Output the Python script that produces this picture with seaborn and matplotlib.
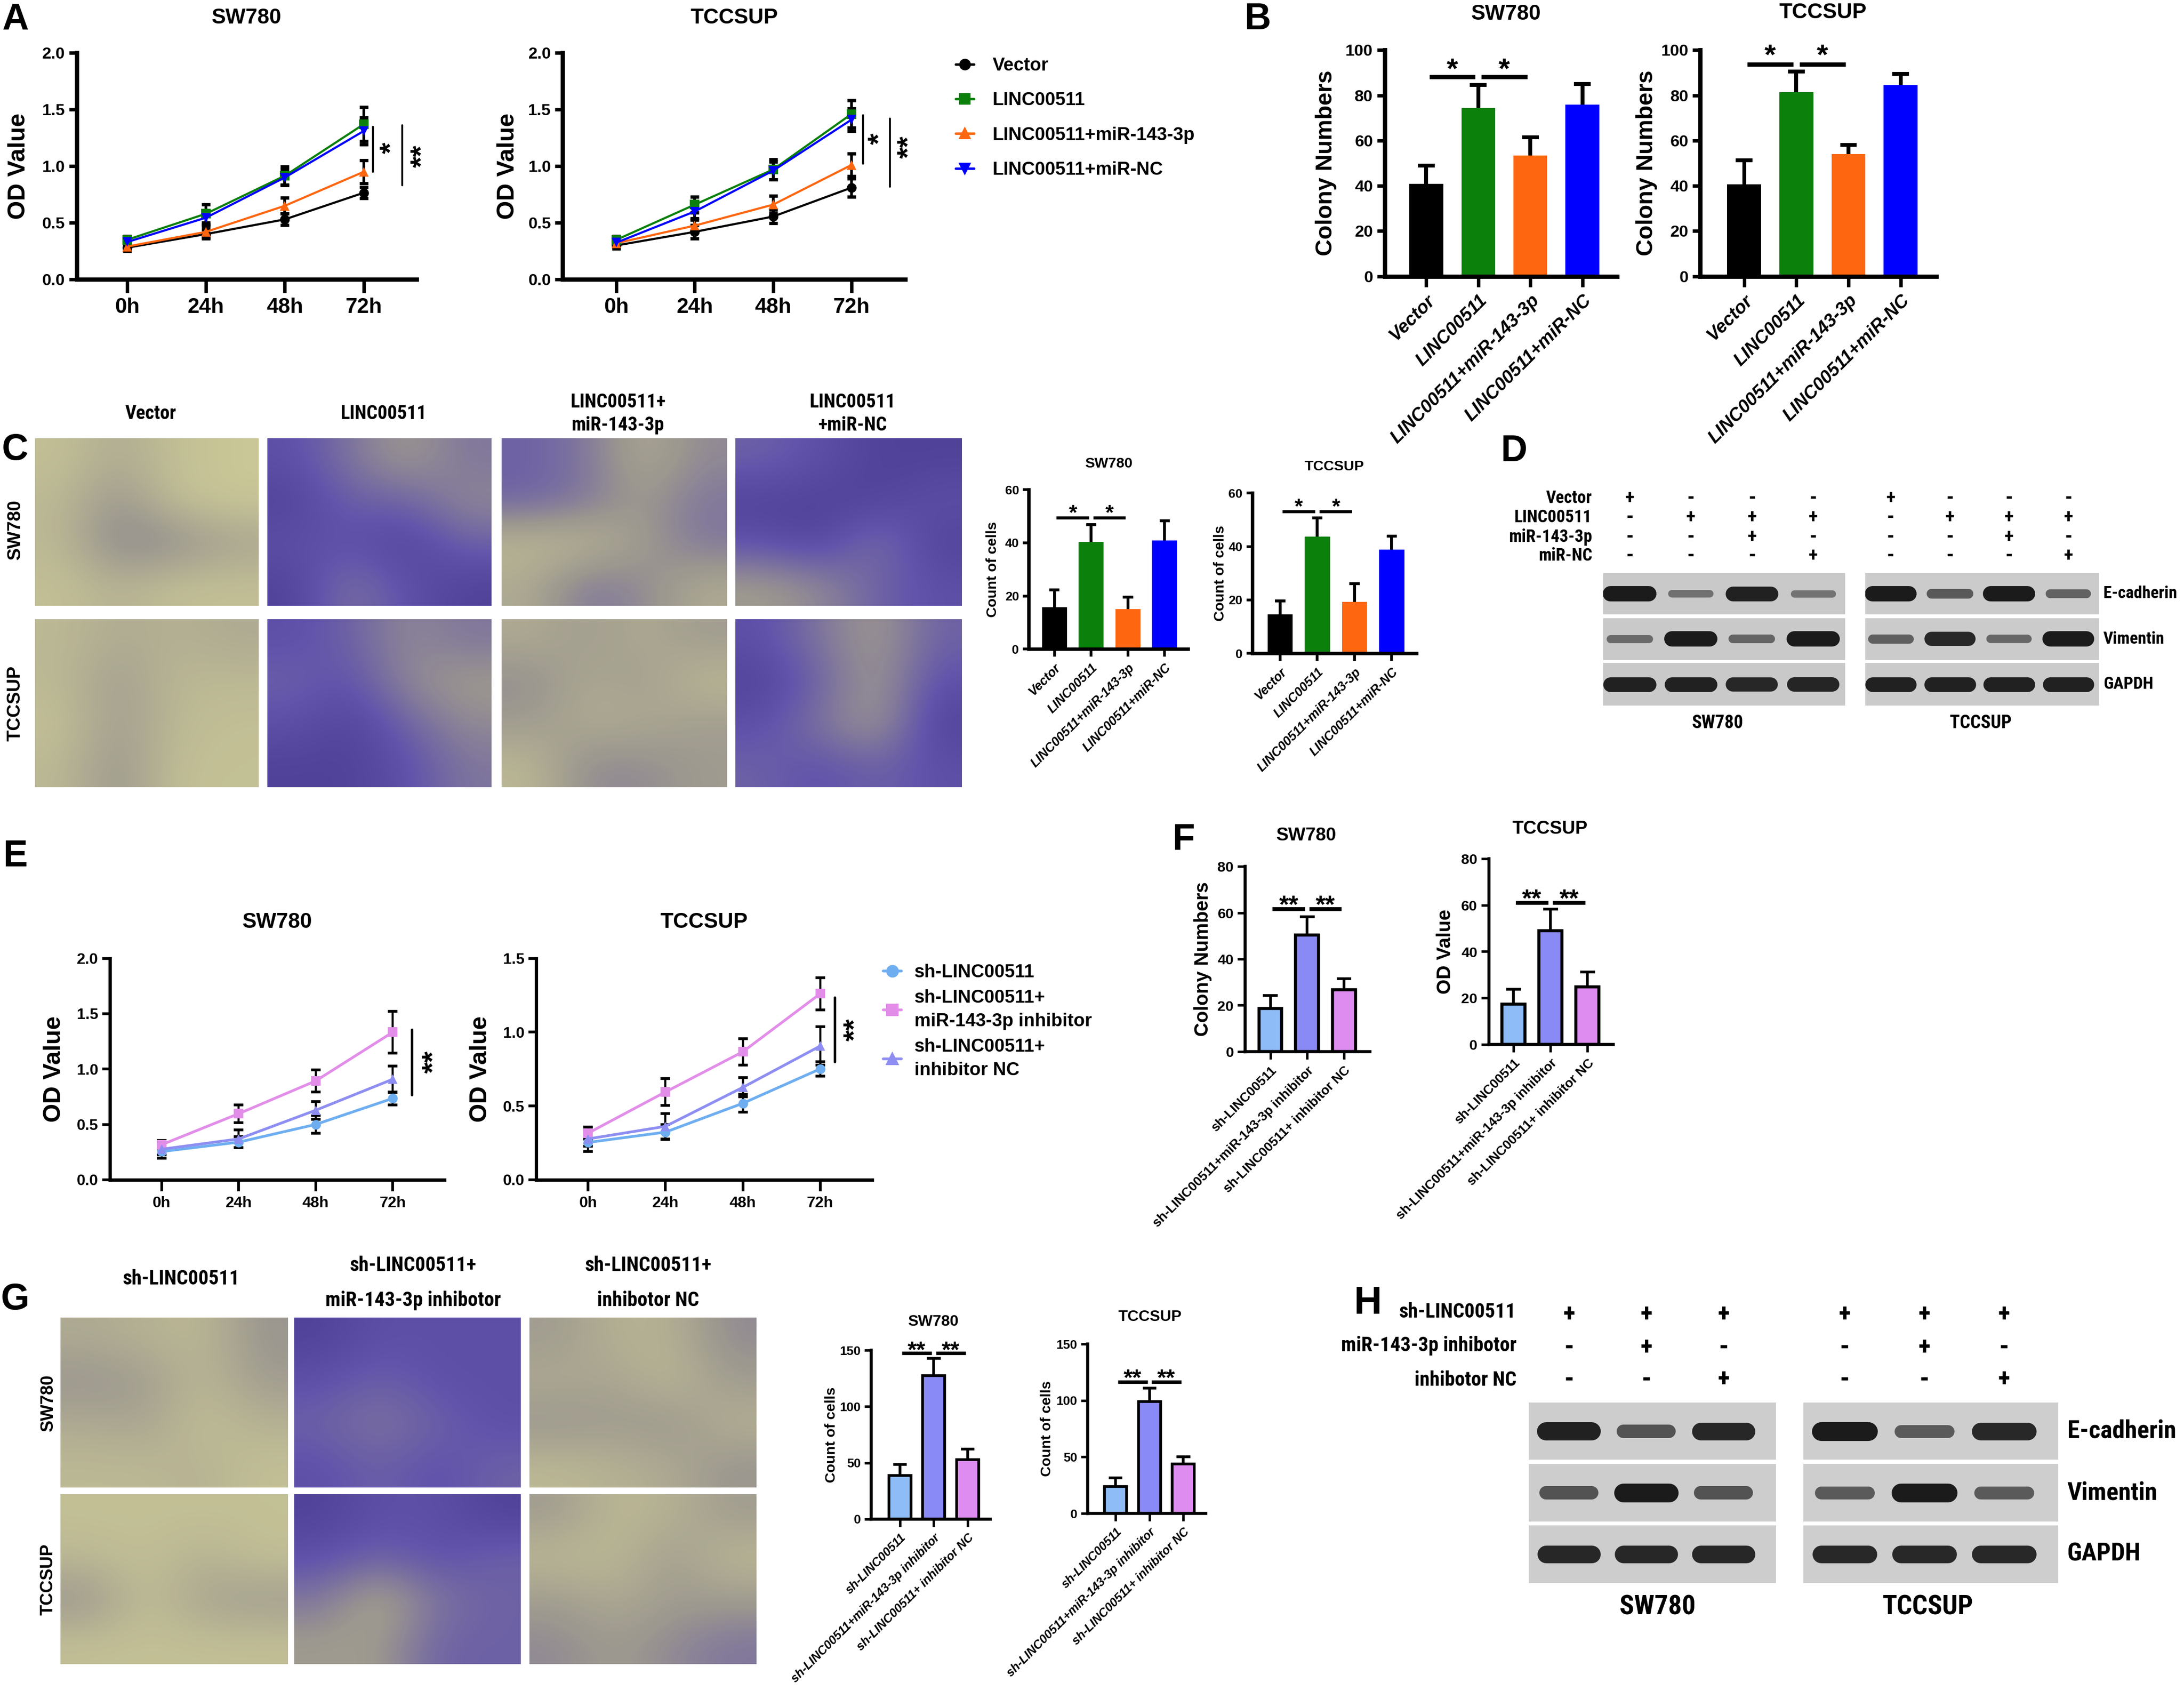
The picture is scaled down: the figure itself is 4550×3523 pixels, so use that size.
import numpy as np
import pandas as pd
import matplotlib
matplotlib.use("Agg")
import matplotlib.pyplot as plt
import matplotlib.transforms as mtransforms
from matplotlib import font_manager
from matplotlib.colors import LinearSegmentedColormap, to_rgb
from matplotlib.lines import Line2D
from matplotlib.ticker import FormatStrFormatter
import seaborn as sns

sns.set_style("ticks")
_fonts = {f.name for f in font_manager.fontManager.ttflist}
NARROW, NF = "Liberation Sans", 0.86
for cand in ["Liberation Sans Narrow", "Roboto Condensed", "Open Sans Condensed"]:
    if cand in _fonts:
        NARROW, NF = cand, 1.0
        break
plt.rcParams["font.family"] = ["Liberation Sans", "DejaVu Sans"]
plt.rcParams["font.weight"] = "bold"
plt.rcParams["axes.labelweight"] = "bold"
for k in ["axes.edgecolor", "xtick.color", "ytick.color", "text.color", "axes.labelcolor"]:
    plt.rcParams[k] = "black"

# ---------------- data ----------------
times = ["0h", "24h", "48h", "72h"]

oe_groups = ["Vector", "LINC00511", "LINC00511+miR-143-3p", "LINC00511+miR-NC"]
oe_colors = ["#000000", "#0b800b", "#ff6610", "#0000ff"]
oe_markers = ["o", "s", "^", "v"]

# A: CCK-8 OD (rows follow oe_groups)
a_sw780_od = [[0.28, 0.40, 0.53, 0.765], [0.35, 0.58, 0.915, 1.37],
              [0.29, 0.42, 0.65, 0.95], [0.33, 0.545, 0.90, 1.31]]
a_sw780_sd = [[0.03, 0.04, 0.05, 0.05], [0.03, 0.08, 0.08, 0.15],
              [0.03, 0.05, 0.07, 0.10], [0.03, 0.06, 0.07, 0.12]]
a_tccsup_od = [[0.30, 0.42, 0.555, 0.81], [0.35, 0.66, 0.97, 1.46],
               [0.32, 0.475, 0.66, 1.01], [0.325, 0.60, 0.96, 1.41]]
a_tccsup_sd = [[0.03, 0.06, 0.06, 0.08], [0.03, 0.07, 0.09, 0.12],
               [0.03, 0.05, 0.08, 0.10], [0.03, 0.06, 0.08, 0.10]]

# B: colony numbers
b_sw780_colony = [41, 74.5, 53.5, 76]
b_sw780_sd = [8, 10, 8, 9]
b_tccsup_colony = [40.7, 81.5, 54, 84.5]
b_tccsup_sd = [10.5, 9, 4, 5]

# C: transwell counts
c_sw780_cells = [15.8, 40.4, 15.1, 40.8]
c_sw780_sd = [6.4, 6.4, 4.5, 7.4]
c_tccsup_cells = [14.6, 43.6, 19.3, 38.8]
c_tccsup_sd = [5.0, 7.1, 6.8, 5.0]

# C micrographs: coarse stain coverage (4x4, top row first)
c_stain_sw780 = [
    [[0.05, 0.2, 0.05, 0.0], [0.1, 0.35, 0.05, 0.0], [0.1, 0.45, 0.4, 0.25], [0.05, 0.15, 0.05, 0.05]],
    [[0.7, 0.5, 0.3, 0.5], [0.8, 0.6, 0.6, 0.4], [0.7, 0.7, 0.8, 0.6], [0.8, 0.5, 0.7, 0.8]],
    [[0.6, 0.5, 0.2, 0.4], [0.6, 0.5, 0.3, 0.5], [0.1, 0.1, 0.3, 0.5], [0.2, 0.5, 0.4, 0.2]],
    [[0.6, 0.7, 0.8, 0.8], [0.8, 0.8, 0.8, 0.7], [0.7, 0.8, 0.5, 0.8], [0.3, 0.4, 0.6, 0.7]],
]
c_stain_tccsup = [
    [[0.1, 0.2, 0.15, 0.2], [0.1, 0.3, 0.1, 0.1], [0.05, 0.3, 0.1, 0.05], [0.1, 0.35, 0.05, 0.05]],
    [[0.7, 0.6, 0.4, 0.5], [0.6, 0.7, 0.4, 0.3], [0.7, 0.8, 0.6, 0.4], [0.8, 0.8, 0.7, 0.5]],
    [[0.2, 0.3, 0.2, 0.3], [0.4, 0.2, 0.3, 0.1], [0.3, 0.2, 0.2, 0.3], [0.1, 0.4, 0.4, 0.3]],
    [[0.7, 0.5, 0.3, 0.6], [0.8, 0.6, 0.3, 0.7], [0.7, 0.5, 0.3, 0.8], [0.6, 0.7, 0.6, 0.7]],
]
c_headers = ["Vector", "LINC00511", "LINC00511+\nmiR-143-3p", "LINC00511\n+miR-NC"]

# D: western blot band strength (lanes follow oe_groups)
blot_proteins = ["E-cadherin", "Vimentin", "GAPDH"]
d_sw780_bands = [[1.0, 0.3, 0.95, 0.28], [0.35, 1.0, 0.4, 1.0], [0.95, 0.95, 0.9, 0.92]]
d_tccsup_bands = [[1.0, 0.5, 1.0, 0.42], [0.45, 0.9, 0.38, 1.0], [0.95, 0.95, 0.95, 0.95]]
d_rows = ["Vector", "LINC00511", "miR-143-3p", "miR-NC"]
d_signs = [["+", "-", "-", "-"], ["-", "+", "+", "+"], ["-", "-", "+", "-"], ["-", "-", "-", "+"]]

# E: knock-down OD
kd_groups = ["sh-LINC00511", "sh-LINC00511+\nmiR-143-3p inhibitor", "sh-LINC00511+\ninhibitor NC"]
kd_line_colors = ["#6eaef0", "#e28ee9", "#8e8ef2"]
kd_markers = ["o", "s", "^"]
e_sw780_od = [[0.255, 0.34, 0.50, 0.735], [0.317, 0.597, 0.893, 1.333], [0.276, 0.369, 0.628, 0.908]]
e_sw780_sd = [[0.06, 0.05, 0.08, 0.06], [0.04, 0.08, 0.10, 0.19], [0.05, 0.08, 0.08, 0.12]]
e_tccsup_od = [[0.253, 0.323, 0.518, 0.751], [0.316, 0.595, 0.867, 1.26], [0.277, 0.362, 0.626, 0.906]]
e_tccsup_sd = [[0.06, 0.05, 0.06, 0.05], [0.04, 0.09, 0.09, 0.11], [0.05, 0.085, 0.065, 0.13]]

# F: colony numbers (knock-down)
kd_labels = ["sh-LINC00511", "sh-LINC00511+miR-143-3p inhibitor", "sh-LINC00511+ inhibitor NC"]
kd_bar_colors = ["#8ebcf6", "#8a8af6", "#de8cf0"]
f_sw780_colony = [18.6, 50.3, 26.8]
f_sw780_sd = [5.7, 7.9, 4.6]
f_tccsup_od = [17.3, 49.0, 24.8]
f_tccsup_sd = [6.5, 9.4, 6.3]

# G: transwell counts (knock-down)
g_sw780_cells = [38.9, 127.4, 52.7]
g_sw780_sd = [9.8, 15.6, 9.5]
g_tccsup_cells = [23.8, 99.1, 43.9]
g_tccsup_sd = [7.6, 11.9, 6.3]
g_stain_sw780 = [
    [[0.2, 0.15, 0.1, 0.35], [0.35, 0.3, 0.1, 0.3], [0.2, 0.25, 0.05, 0.15], [0.1, 0.1, 0.15, 0.05]],
    [[0.8, 0.7, 0.7, 0.7], [0.7, 0.6, 0.7, 0.7], [0.6, 0.5, 0.6, 0.7], [0.7, 0.6, 0.7, 0.6]],
    [[0.3, 0.15, 0.15, 0.4], [0.2, 0.25, 0.1, 0.3], [0.35, 0.3, 0.35, 0.15], [0.1, 0.15, 0.2, 0.35]],
]
g_stain_tccsup = [
    [[0.05, 0.05, 0.05, 0.05], [0.1, 0.05, 0.15, 0.05], [0.35, 0.05, 0.25, 0.3], [0.05, 0.05, 0.05, 0.05]],
    [[0.8, 0.7, 0.7, 0.8], [0.7, 0.6, 0.7, 0.6], [0.5, 0.2, 0.5, 0.6], [0.3, 0.3, 0.6, 0.6]],
    [[0.3, 0.1, 0.15, 0.3], [0.1, 0.1, 0.3, 0.1], [0.3, 0.2, 0.3, 0.3], [0.4, 0.3, 0.4, 0.5]],
]
g_headers = ["sh-LINC00511", "sh-LINC00511+\nmiR-143-3p inhibotor", "sh-LINC00511+\ninhibotor NC"]

# H: western blot (knock-down)
h_sw780_bands = [[0.95, 0.55, 0.9], [0.55, 1.0, 0.55], [0.9, 0.9, 0.9]]
h_tccsup_bands = [[1.0, 0.5, 0.9], [0.5, 1.0, 0.5], [0.9, 0.9, 0.9]]
h_rows = ["sh-LINC00511", "miR-143-3p inhibotor", "inhibotor NC"]
h_signs = [["+", "+", "+"], ["-", "+", "-"], ["-", "-", "+"]]

# ---------------- helpers ----------------
W, H = 1568.0, 1214.0
fig = plt.figure(figsize=(15.68, 12.14), dpi=290.2)


def add_ax(x0, y0, x1, y1):
    return fig.add_axes([x0 / W, 1 - y1 / H, (x1 - x0) / W, (y1 - y0) / H])


def ftext(x, y, s, **kw):
    kw.setdefault("ha", "center")
    kw.setdefault("va", "center")
    fig.text(x / W, 1 - y / H, s, **kw)


def ntext(x, y, s, fs, **kw):
    # label in the condensed "Calibri-like" style of the blot / micrograph captions
    ftext(x, y, s, fontsize=fs * NF, family=NARROW, **kw)


def set_ylabel(ax, text, x_center, fs):
    ax.set_ylabel(text, fontsize=fs, fontweight="bold", va="center")
    pos = ax.get_position()
    ax.yaxis.set_label_coords((x_center / W - pos.x0) / pos.width, 0.5)


def style_axes(ax, c):
    sns.despine(ax=ax)
    for s in ("left", "bottom"):
        ax.spines[s].set_linewidth(c["spine"])
    ax.tick_params(axis="y", width=c["tickw"], length=c["ylen"], labelsize=c["yfs"], pad=2)
    ax.tick_params(axis="x", width=c["tickw"], length=c["xlen"], labelsize=c["xfs"], pad=2.5)


def star(ax, x, y, s, fs, rot=0):
    # shift so the visible asterisk (not its text box) is centred on (x, y)
    off = 0.22 * fs
    xy = (off, 0) if rot else (0, -off)
    ax.annotate(s, xy=(x, y), xytext=xy, textcoords="offset points", ha="center", va="center",
                rotation=rot, fontsize=fs, annotation_clip=False)


def od_panel(box, xlim, od, sd, groups, colors, markers, ymax, title, title_y, ylab_x, c):
    ax = add_ax(*box)
    df = pd.DataFrame([(g, t, v) for g, row in zip(groups, od) for t, v in enumerate(row)],
                      columns=["group", "time", "od"])
    for row, err in zip(od, sd):
        ax.errorbar(np.arange(len(times)), row, yerr=err, fmt="none", ecolor="black",
                    elinewidth=c["elw"], capsize=c["cap"], capthick=c["elw"] + 0.3, zorder=2)
    sns.lineplot(data=df, x="time", y="od", hue="group", style="group",
                 hue_order=groups, style_order=groups,
                 palette=dict(zip(groups, colors)), markers=dict(zip(groups, markers)),
                 dashes=False, markersize=c["ms"], linewidth=c["lw"], markeredgewidth=0,
                 errorbar=None, legend=False, ax=ax, zorder=3)
    ax.set_xlim(*xlim)
    ax.set_ylim(0, ymax)
    ax.set_xticks(range(len(times)), times)
    ax.set_yticks(np.arange(0, ymax + 1e-6, 0.5))
    ax.yaxis.set_major_formatter(FormatStrFormatter("%.1f"))
    ax.set_xlabel("")
    style_axes(ax, c)
    set_ylabel(ax, "OD Value", ylab_x, c["labfs"])
    ftext((box[0] + box[2]) / 2, title_y, title, fontsize=c["titlefs"])
    return ax


def bar_panel(box, xlim, labels, vals, sd, colors, ymax, ystep, title, title_xy, ylabel, ylab_x, c):
    ax = add_ax(*box)
    n = len(vals)
    df = pd.DataFrame({"group": labels, "value": vals})
    sns.barplot(data=df, x="group", y="value", hue="group", order=labels, hue_order=labels,
                palette=colors, saturation=1, width=c["bw"], edgecolor=c["ec"], linewidth=c["ecw"],
                legend=False, ax=ax, zorder=2)
    x = np.arange(n)
    tops = np.array(vals) + np.array(sd)
    ax.vlines(x, vals, tops, color="black", lw=c["elw"], zorder=1)
    ax.hlines(tops, x - c["cap"], x + c["cap"], color="black", lw=c["elw"], zorder=1)
    ax.set_xlim(*xlim)
    ax.set_ylim(0, ymax)
    ax.set_yticks(np.arange(0, ymax + 1e-6, ystep))
    ax.set_xticks(x)
    ax.set_xticklabels(labels, rotation=45, ha="right", rotation_mode="anchor",
                       fontsize=c["xfs"], style=c["xstyle"])
    ax.set_xlabel("")
    style_axes(ax, c)
    set_ylabel(ax, ylabel, ylab_x, c["labfs"])
    ftext(title_xy[0], title_xy[1], title, fontsize=c["titlefs"])
    return ax


def hsig(ax, pairs, y_line, y_star, s, lw, fs):
    for i, j in pairs:
        ax.plot([i + 0.06, j - 0.06], [y_line, y_line], color="black", lw=lw,
                solid_capstyle="butt", clip_on=False)
        star(ax, (i + j) / 2, y_star, s, fs)


def vsig(ax, x, y0, y1, sx, sy, s, lw, fs):
    ax.plot([x, x], [y0, y1], color="black", lw=lw, clip_on=False)
    star(ax, sx, sy, s, fs, rot=90)


stain_cmap = LinearSegmentedColormap.from_list(
    "stain", ["#c9c797", "#9c978f", "#6254ab", "#33287c"])


def micrograph(box, grid):
    ax = add_ax(*box)
    ax.imshow(np.array(grid), cmap=stain_cmap, vmin=0, vmax=1, interpolation="bicubic", aspect="auto")
    ax.set_axis_off()


def mix(c1, c2, t):
    a, b = np.array(to_rgb(c1)), np.array(to_rgb(c2))
    return tuple(a * (1 - t) + b * t)


def blot(xr, rows_y, xlim, bands, lane_len, thick, bg):
    axes = []
    for (y0, y1), row in zip(rows_y, bands):
        ax = add_ax(xr[0], y0, xr[1], y1)
        ax.set_facecolor(bg)
        for i, v in enumerate(row):
            ax.plot([i - lane_len / 2, i + lane_len / 2], [0.5, 0.5],
                    lw=(thick[0] + thick[1] * v) * 0.72, color=mix(bg, "#1b1b1b", 0.3 + 0.7 * v),
                    solid_capstyle="round")
        ax.set_xlim(*xlim)
        ax.set_ylim(0, 1)
        ax.set_xticks([])
        ax.set_yticks([])
        for s in ax.spines.values():
            s.set_visible(False)
        axes.append(ax)
    return axes


def sign_rows(ax, signs, rows_y, fs):
    tr = mtransforms.blended_transform_factory(ax.transData, fig.transFigure)
    for row, y in zip(signs, rows_y):
        for i, s in enumerate(row):
            ax.text(i, 1 - y / H, s, transform=tr, ha="center", va="center",
                    fontsize=fs if s == "+" else fs * 1.1, family=NARROW)


# ---------------- panel A ----------------
cA = dict(spine=2.2, tickw=1.8, ylen=4, xlen=7, yfs=8.5, xfs=11, ms=5, lw=1.1, elw=1.4,
          cap=2.2, labfs=12.5, titlefs=11)
axA1 = od_panel((55, 38, 299, 200.6), (-0.64, 3.67), a_sw780_od, a_sw780_sd, oe_groups,
                oe_colors, oe_markers, 2.0, "SW780", 13, 13.5, cA)
vsig(axA1, 3.12, 0.95, 1.35, 3.28, 1.16, "*", 1.0, 15)
vsig(axA1, 3.49, 0.83, 1.36, 3.67, 1.09, "**", 1.0, 15)
axA2 = od_panel((404, 38, 650, 200.6), (-0.685, 3.69), a_tccsup_od, a_tccsup_sd, oe_groups,
                oe_colors, oe_markers, 2.0, "TCCSUP", 13, 364.5, cA)
vsig(axA2, 3.15, 1.02, 1.45, 3.29, 1.24, "*", 1.0, 15)
vsig(axA2, 3.49, 0.82, 1.42, 3.66, 1.17, "**", 1.0, 15)
handles = [Line2D([], [], color=c, marker=m, markersize=5, lw=1.3) for c, m in zip(oe_colors, oe_markers)]
fig.legend(handles, oe_groups, loc="upper left", bbox_to_anchor=(686 / W, 1 - 41 / H),
           frameon=False, fontsize=9.5, handlelength=1.0, handletextpad=1.0, labelspacing=0.95,
           borderpad=0, borderaxespad=0)

# ---------------- panel B ----------------
cB = dict(spine=2.2, tickw=1.8, ylen=4, xlen=5.5, yfs=8.5, xfs=9.5, xstyle="italic", bw=0.65,
          ec="none", ecw=0, elw=2.0, cap=0.16, labfs=12, titlefs=11)
axB1 = bar_panel((994, 36, 1161, 198.4), (-0.80, 3.67), oe_groups, b_sw780_colony, b_sw780_sd,
                 oe_colors, 100, 20, "SW780", (1081, 10), "Colony Numbers", 952, cB)
hsig(axB1, [(0, 1), (1, 2)], 88.2, 93.7, "*", 2.2, 15)
axB2 = bar_panel((1220.6, 36, 1390, 198.4), (-0.84, 3.68), oe_groups, b_tccsup_colony, b_tccsup_sd,
                 oe_colors, 100, 20, "TCCSUP", (1308.5, 9), "Colony Numbers", 1182, cB)
hsig(axB2, [(0, 1), (1, 2)], 93.7, 99.8, "*", 2.2, 15)

# ---------------- panel C ----------------
c_cols = [(25, 185.5), (192, 352.7), (360, 521.7), (528, 690.5)]
c_rows = [(314.6, 435), (444.7, 565)]
for (x0, x1), g1, g2 in zip(c_cols, c_stain_sw780, c_stain_tccsup):
    micrograph((x0, c_rows[0][0], x1, c_rows[0][1]), g1)
    micrograph((x0, c_rows[1][0], x1, c_rows[1][1]), g2)
for (x0, x1), hdr in zip(c_cols, c_headers):
    ntext((x0 + x1) / 2 + 3, 297, hdr, 10, linespacing=1.35)
ftext(11, 380, "SW780", rotation=90, fontsize=9.5)
ftext(11, 505, "TCCSUP", rotation=90, fontsize=9.5)

cC = dict(spine=1.8, tickw=1.4, ylen=3, xlen=4, yfs=6.5, xfs=6.6, xstyle="italic", bw=0.68,
          ec="none", ecw=0, elw=1.5, cap=0.14, labfs=7.5, titlefs=7.5)
axC1 = bar_panel((738.5, 351.5, 853, 466), (-0.70, 3.64), oe_groups, c_sw780_cells, c_sw780_sd,
                 oe_colors, 60, 20, "SW780", (796, 333), "Count of cells", 712.5, cC)
hsig(axC1, [(0, 1), (1, 2)], 49.3, 52.5, "*", 1.6, 11)
axC2 = bar_panel((899, 354, 1017, 469), (-0.75, 3.67), oe_groups, c_tccsup_cells, c_tccsup_sd,
                 oe_colors, 60, 20, "TCCSUP", (958, 335), "Count of cells", 876, cC)
hsig(axC2, [(0, 1), (1, 2)], 53, 56.2, "*", 1.6, 11)

# ---------------- panel D ----------------
d_rows_y = [(411.5, 441), (443.8, 473.8), (476, 506.5)]
d_sign_y = [357.7, 371.5, 385.6, 399.2]
dxl = (-0.43, 3.52)
axD1 = blot((1151, 1324.5), d_rows_y, dxl, d_sw780_bands, 0.62, (3, 8), "#c9c9c9")
axD2 = blot((1339, 1507), d_rows_y, dxl, d_tccsup_bands, 0.62, (3, 8), "#cbcbcb")
sign_rows(axD1[0], d_signs, d_sign_y, 10)
sign_rows(axD2[0], d_signs, d_sign_y, 10)
for lab, y in zip(d_rows, d_sign_y):
    ntext(1143, y, lab, 9, ha="right")
for lab, (y0, y1) in zip(blot_proteins, d_rows_y):
    ntext(1510, (y0 + y1) / 2, lab, 8.8, ha="left")
ntext(1233, 519, "SW780", 9.5)
ntext(1422, 519, "TCCSUP", 9.5)

# ---------------- panel E ----------------
cE = dict(spine=1.7, tickw=1.4, ylen=4, xlen=6, yfs=8, xfs=8, ms=5, lw=1.4, elw=1.1,
          cap=2.5, labfs=12.5, titlefs=11)
axE1 = od_panel((79, 688, 319, 847), (-0.67, 3.67), e_sw780_od, e_sw780_sd, kd_groups,
                kd_line_colors, kd_markers, 2.0, "SW780", 662, 39, cE)
vsig(axE1, 3.25, 0.769, 1.357, 3.46, 1.063, "**", 1.3, 15)
axE2 = od_panel((385, 688, 626, 847), (-0.67, 3.67), e_tccsup_od, e_tccsup_sd, kd_groups,
                kd_line_colors, kd_markers, 1.5, "TCCSUP", 662, 345, cE)
vsig(axE2, 3.19, 0.80, 1.236, 3.38, 1.015, "**", 1.3, 15)
handles = [Line2D([], [], color=c, marker=m, markersize=5.5, lw=1.4) for c, m in zip(kd_line_colors, kd_markers)]
legE = fig.legend(handles, kd_groups, loc="upper left", bbox_to_anchor=(634 / W, 1 - 692 / H),
                  frameon=False, fontsize=9.5, handlelength=1.0, handletextpad=0.7, labelspacing=0.45,
                  borderpad=0, borderaxespad=0)
for t in legE.get_texts():
    t.set_linespacing(1.45)

# ---------------- panel F ----------------
cF = dict(spine=1.6, tickw=1.3, ylen=4, xlen=4, yfs=7.5, xfs=6.8, xstyle="normal", bw=0.62,
          ec="black", ecw=1.6, elw=1.4, cap=0.2, labfs=10, titlefs=9.5)
axF1 = bar_panel((894, 622, 983.6, 755), (-0.68, 2.71), kd_labels, f_sw780_colony, f_sw780_sd,
                 kd_bar_colors, 80, 20, "SW780", (938, 600), "Colony Numbers", 863.5, cF)
hsig(axF1, [(0, 1), (1, 2)], 61.5, 65.2, "**", 2.0, 13)
axF2 = bar_panel((1069, 616.6, 1158, 749.7), (-0.66, 2.69), kd_labels, f_tccsup_od, f_tccsup_sd,
                 kd_bar_colors, 80, 20, "TCCSUP", (1112.7, 595), "OD Value", 1037.5, cF)
hsig(axF2, [(0, 1), (1, 2)], 61.1, 64.7, "**", 2.0, 13)

# ---------------- panel G ----------------
g_cols = [(43.5, 206.7), (211.4, 374), (380, 542.7)]
g_rows = [(946, 1068), (1072.6, 1194.7)]
for (x0, x1), g1, g2 in zip(g_cols, g_stain_sw780, g_stain_tccsup):
    micrograph((x0, g_rows[0][0], x1, g_rows[0][1]), g1)
    micrograph((x0, g_rows[1][0], x1, g_rows[1][1]), g2)
ntext(130, 918, g_headers[0], 10.5)
for (x0, x1), hdr in zip(g_cols[1:], g_headers[1:]):
    ntext((x0 + x1) / 2 + 4, 921, hdr, 10.5, linespacing=2.0)
ftext(34.5, 1007, "SW780", rotation=90, fontsize=9)
ftext(34.5, 1134, "TCCSUP", rotation=90, fontsize=9)

cG = dict(spine=1.6, tickw=1.3, ylen=3.5, xlen=4, yfs=6.5, xfs=6.3, xstyle="italic", bw=0.65,
          ec="black", ecw=1.4, elw=1.4, cap=0.2, labfs=7.5, titlefs=8)
axG1 = bar_panel((625.6, 969.4, 711, 1090.6), (-0.84, 2.67), kd_labels, g_sw780_cells, g_sw780_sd,
                 kd_bar_colors, 150, 50, "SW780", (670, 949), "Count of cells", 597, cG)
hsig(axG1, [(0, 1), (1, 2)], 147.5, 154, "**", 1.8, 12)
axG2 = bar_panel((781, 965, 865.6, 1086.5), (-0.82, 2.66), kd_labels, g_tccsup_cells, g_tccsup_sd,
                 kd_bar_colors, 150, 50, "TCCSUP", (825.6, 945.6), "Count of cells", 751.7, cG)
hsig(axG2, [(0, 1), (1, 2)], 116.6, 124, "**", 1.8, 12)

# ---------------- panel H ----------------
h_rows_y = [(1007, 1048), (1051, 1092.5), (1095, 1136.3)]
h_sign_y = [944, 967.5, 990.5]
hxl = (-0.52, 2.68)
axH1 = blot((1097.5, 1275), h_rows_y, hxl, h_sw780_bands, 0.59, (5, 8.5), "#cdcdcd")
axH2 = blot((1294.5, 1477.6), h_rows_y, hxl, h_tccsup_bands, 0.59, (5, 8.5), "#cecece")
sign_rows(axH1[0], h_signs, h_sign_y, 13)
sign_rows(axH2[0], h_signs, h_sign_y, 13)
for lab, y in zip(h_rows, [942, 966, 991]):
    ntext(1088.6, y, lab, 10.5, ha="right")
for lab, (y0, y1) in zip(blot_proteins, h_rows_y):
    ntext(1484, (y0 + y1) / 2, lab, 13, ha="left")
ntext(1190, 1154, "SW780", 14)
ntext(1384, 1154, "TCCSUP", 14)

# ---------------- panel letters ----------------
for lab, x, y in [("A", 11, 14), ("B", 903, 14), ("C", 11, 323), ("D", 1087, 324),
                  ("E", 11, 615), ("F", 850, 603), ("G", 11, 933)]:
    ftext(x, y, lab, fontsize=19)
ftext(982, 936, "H", fontsize=20)

fig.savefig("out.png", dpi=290.2, facecolor="white")
